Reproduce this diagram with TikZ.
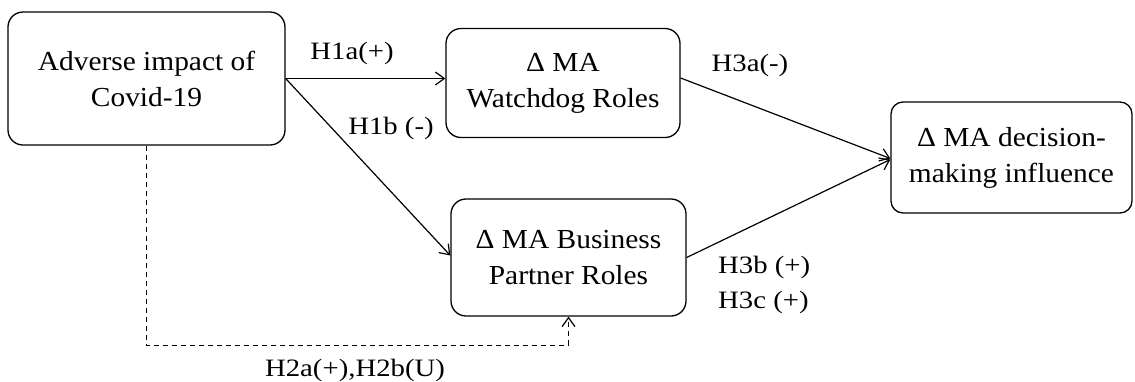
\documentclass[tikz,border=0pt]{standalone}
\usepackage{fontspec}
\setmainfont{Liberation Serif}
\newfontfamily\boxfont[FakeStretch=1.07]{Liberation Serif}
\newfontfamily\labfont[FakeStretch=1.15]{Liberation Serif}
\usetikzlibrary{arrows.meta,calc}
\begin{document}
\begin{tikzpicture}[x=1pt,y=-1pt,
  >={Straight Barb[length=9pt,width=13pt,line width=1.2pt]},
  rolebox/.style={draw,line width=1.3pt,rounded corners=15pt,align=center,
    inner sep=0pt,font=\boxfont\fontsize{27.5}{36}\selectfont},
  hyp/.style={font=\labfont\fontsize{25}{35}\selectfont,inner sep=0pt},
  link/.style={->,line width=1.2pt},
  dashlink/.style={->,line width=1pt,dash pattern=on 5pt off 4pt}]
\useasboundingbox (0,0) rectangle (1135,381);

\node[rolebox,minimum width=277pt,minimum height=133pt] (cov) at (146.5,78.5)
  {Adverse impact of\\Covid-19};
\node[rolebox,minimum width=234pt,minimum height=109pt] (wd) at (563,83)
  {Δ MA\\Watchdog Roles};
\node[rolebox,minimum width=235pt,minimum height=117pt] (bp) at (568.5,257.5)
  {Δ MA Business\\Partner Roles};
\node[rolebox,minimum width=241pt,minimum height=111pt,rounded corners=12pt] (dm) at (1011.5,157.5)
  {Δ MA decision-\\making influence};

\draw[link] (cov.east) -- (wd.west |- cov.east);
\draw[link] (cov.east) -- ([yshift=2pt]bp.west);
\draw[link] ([yshift=5pt]wd.east) -- ([yshift=-1pt]dm.west);
\draw[link] (bp.east) -- ([yshift=-2pt]dm.west);
\draw[dashlink] (cov.south) -- (cov.south |- 0,345) -| (bp.south);

\node[hyp] (h1a) at (352,53) {H1a(+)};
\node[hyp] (h1b) at (391,128) {H1b (-)};
\node[hyp] (h3a) at (750,65) {H3a(-)};
\node[hyp,anchor=west] (h3b) at (718,267) {H3b (+)};
\node[hyp,anchor=west] (h3c) at (718,302) {H3c (+)};
\node[hyp] (h2) at (355,370) {H2a(+),H2b(U)};
\end{tikzpicture}
\end{document}
